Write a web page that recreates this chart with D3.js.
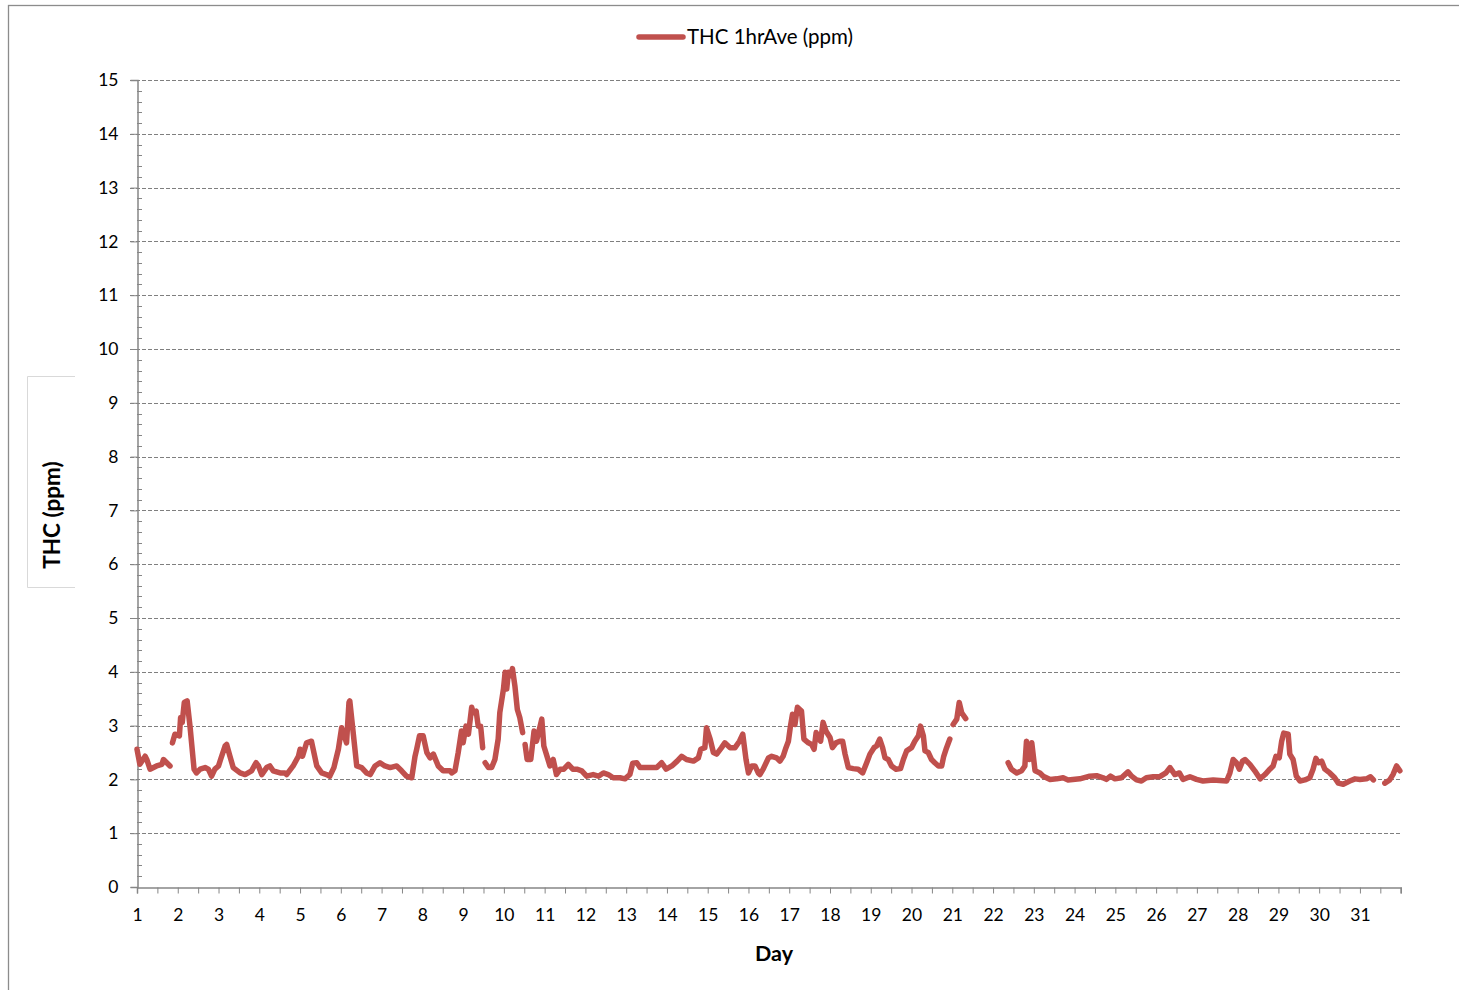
<!DOCTYPE html>
<meta charset="utf-8">
<title>THC 1hrAve</title>
<style>

body {
  margin: 0;
  background: #fff;
}

text {
  font-family: Lato, "Open Sans", sans-serif;
  fill: #000;
}

</style>
<body>
  <script src="https://d3js.org/d3.v7.min.js"></script>
  <script>

  // series: day position (decimal) and THC value, null marks a gap in the record
  const days = [
    1.00, 1.07, 1.20, 1.24, 1.32, 1.48, 1.61, 1.65, 1.73, 1.81, 1.84,
    1.87, 1.93, 2.04, 2.07, 2.11, 2.16, 2.23, 2.30, 2.40, 2.46, 2.55, 2.67, 2.75, 2.83, 2.91,
    3.00, 3.05, 3.16, 3.20, 3.28, 3.36, 3.53, 3.65, 3.81, 3.92, 3.98, 4.06, 4.18, 4.26, 4.34,
    4.51, 4.63, 4.67, 4.83, 4.96, 5.00, 5.06, 5.16, 5.28, 5.41, 5.53, 5.65, 5.73, 5.83, 5.94,
    6.02, 6.14, 6.20, 6.22, 6.39, 6.51, 6.63, 6.72, 6.84, 6.96, 7.08, 7.21, 7.37, 7.49, 7.61,
    7.74, 7.82, 7.86, 7.93, 8.02, 8.11, 8.19, 8.27, 8.39, 8.51, 8.68, 8.72, 8.80, 8.88, 8.96,
    9.00, 9.07, 9.13, 9.21, 9.25, 9.32, 9.37, 9.43, 9.48, 9.51,
    9.54, 9.62, 9.70, 9.78, 9.86, 9.90, 9.99, 10.03, 10.07, 10.11, 10.17, 10.21, 10.27, 10.33,
    10.39, 10.46, 10.49,
    10.52, 10.57, 10.66, 10.74, 10.80, 10.87, 10.93, 10.98, 11.07, 11.13, 11.21, 11.29, 11.38,
    11.47, 11.58, 11.69, 11.79, 11.91, 12.03, 12.19, 12.32, 12.44, 12.56, 12.68, 12.85, 12.97,
    13.09, 13.16, 13.26, 13.34, 13.46, 13.58, 13.75, 13.87, 13.98, 14.12, 14.25, 14.36, 14.48,
    14.65, 14.77, 14.83, 14.93, 14.97, 15.06, 15.14, 15.22, 15.34, 15.42, 15.55, 15.67, 15.78,
    15.86, 15.94, 16.00, 16.08, 16.16, 16.24, 16.28, 16.36, 16.49, 16.57, 16.69, 16.77, 16.85,
    16.92, 16.98, 17.03, 17.08, 17.14, 17.20, 17.30, 17.36, 17.47, 17.55, 17.61, 17.66, 17.71,
    17.77, 17.83, 17.90, 18.00, 18.06, 18.15, 18.24, 18.31, 18.37, 18.45, 18.57, 18.69, 18.80,
    18.90, 18.98, 19.08, 19.14, 19.22, 19.29, 19.35, 19.43, 19.51, 19.62, 19.73, 19.80, 19.88,
    20.00, 20.08, 20.17, 20.22, 20.29, 20.33, 20.41, 20.49, 20.57, 20.66, 20.74, 20.79, 20.86,
    20.94, 20.98,
    21.02, 21.11, 21.17, 21.23, 21.33, 21.80,
    22.37, 22.45, 22.58, 22.70, 22.78, 22.82, 22.89, 22.95, 23.03, 23.15, 23.23, 23.40, 23.56,
    23.72, 23.84, 24.13, 24.37, 24.54, 24.70, 24.78, 24.88, 24.99, 25.15, 25.31, 25.40, 25.52,
    25.64, 25.76, 25.93, 26.09, 26.24, 26.34, 26.46, 26.57, 26.66, 26.83, 26.99, 27.15, 27.40,
    27.73, 27.81, 27.89, 27.97, 28.04, 28.12, 28.18, 28.30, 28.42, 28.55, 28.67, 28.79, 28.87,
    28.94, 29.02, 29.08, 29.13, 29.24, 29.28, 29.36, 29.44, 29.53, 29.65, 29.77, 29.85, 29.92,
    29.98, 30.06, 30.14, 30.26, 30.38, 30.47, 30.59, 30.75, 30.88, 31.00, 31.16, 31.26, 31.33,
    31.45,
    31.61, 31.73, 31.81, 31.90, 31.98
  ];

  const thc = [
    2.56, 2.28, 2.43, 2.37, 2.19, 2.25, 2.28, 2.37, 2.31, 2.25, null,
    2.68, 2.84, 2.81, 3.15, 3.06, 3.43, 3.46, 2.99, 2.19, 2.12, 2.19, 2.22, 2.19, 2.06, 2.19,
    2.25, 2.37, 2.62, 2.65, 2.43, 2.22, 2.12, 2.09, 2.16, 2.31, 2.25, 2.09, 2.22, 2.25, 2.16,
    2.12, 2.12, 2.09, 2.25, 2.43, 2.56, 2.43, 2.68, 2.71, 2.25, 2.12, 2.09, 2.06, 2.22, 2.56,
    2.96, 2.68, 3.43, 3.46, 2.25, 2.22, 2.12, 2.09, 2.25, 2.31, 2.25, 2.22, 2.25, 2.16, 2.06,
    2.03, 2.43, 2.56, 2.81, 2.81, 2.50, 2.40, 2.47, 2.25, 2.16, 2.16, 2.12, 2.16, 2.50, 2.90,
    2.68, 2.99, 2.84, 3.34, 3.24, 3.27, 2.99, 2.99, 2.59, null,
    2.31, 2.22, 2.22, 2.37, 2.75, 3.24, 3.68, 3.99, 3.68, 3.99, 3.93, 4.06, 3.74, 3.30,
    3.15, 2.87, null,
    2.65, 2.37, 2.37, 2.90, 2.71, 2.93, 3.12, 2.62, 2.40, 2.25, 2.37, 2.09, 2.19,
    2.19, 2.28, 2.19, 2.19, 2.16, 2.06, 2.09, 2.06, 2.12, 2.09, 2.03, 2.03, 2.01,
    2.09, 2.30, 2.31, 2.22, 2.22, 2.22, 2.22, 2.31, 2.19, 2.25, 2.34, 2.43, 2.37,
    2.34, 2.40, 2.56, 2.59, 2.96, 2.75, 2.50, 2.47, 2.59, 2.68, 2.59, 2.59, 2.71,
    2.84, 2.37, 2.12, 2.25, 2.25, 2.12, 2.09, 2.19, 2.40, 2.43, 2.40, 2.34, 2.43,
    2.59, 2.71, 2.99, 3.21, 3.02, 3.34, 3.27, 2.75, 2.68, 2.65, 2.56, 2.87, 2.78,
    2.71, 3.06, 2.90, 2.78, 2.59, 2.68, 2.71, 2.71, 2.47, 2.22, 2.20, 2.19, 2.12,
    2.31, 2.47, 2.59, 2.62, 2.75, 2.59, 2.40, 2.37, 2.25, 2.19, 2.20, 2.37, 2.53,
    2.59, 2.71, 2.81, 2.99, 2.81, 2.53, 2.50, 2.37, 2.31, 2.25, 2.25, 2.43, 2.59,
    2.75, null,
    3.02, 3.12, 3.43, 3.24, 3.13, null,
    2.31, 2.19, 2.12, 2.16, 2.25, 2.71, 2.37, 2.68, 2.16, 2.12, 2.06, 2.00, 2.01,
    2.03, 1.99, 2.01, 2.06, 2.07, 2.03, 2.00, 2.06, 2.01, 2.03, 2.14, 2.06, 1.99,
    1.97, 2.03, 2.05, 2.05, 2.12, 2.22, 2.09, 2.12, 2.00, 2.05, 2.00, 1.97, 1.99,
    1.97, 2.12, 2.37, 2.31, 2.19, 2.34, 2.37, 2.28, 2.16, 2.01, 2.09, 2.19, 2.25,
    2.43, 2.40, 2.71, 2.86, 2.84, 2.47, 2.37, 2.06, 1.97, 1.99, 2.03, 2.19, 2.39,
    2.31, 2.34, 2.19, 2.12, 2.03, 1.93, 1.91, 1.97, 2.01, 2.00, 2.01, 2.05, 1.99,
    null,
    1.93, 1.99, 2.09, 2.25, 2.16
  ];

  const dayLabels = d3.range(1, 32);   // 1 .. 31
  const yTicks = d3.range(0, 16);      // 0 .. 15
  const seriesName = "THC 1hrAve (ppm)";

  const width = 1459;
  const height = 990;
  const plotLeft = 137, plotRight = 1400.7, plotTop = 80, plotBottom = 887;
  const lineColor = "#c0504d";
  const axisColor = "#868686";

  const svg = d3.select("body").append("svg")
      .attr("width", width)
      .attr("height", height);

  // outer chart frame
  svg.append("rect")
      .attr("x", 8.5).attr("y", 5.5)
      .attr("width", width).attr("height", height)
      .attr("fill", "none")
      .attr("stroke", "#8c8c8c")
      .attr("stroke-width", 1.3);

  const x = d3.scaleLinear().domain([1, 32]).range([plotLeft, plotRight]);
  const y = d3.scaleLinear().domain([0, 15]).range([plotBottom, plotTop]);

  // dashed gridlines
  svg.append("g").selectAll("line")
      .data(yTicks.filter(d => d > 0))
    .enter().append("line")
      .attr("x1", plotLeft - 7).attr("x2", plotRight)
      .attr("y1", d => Math.round(y(d)) + 0.5)
      .attr("y2", d => Math.round(y(d)) + 0.5)
      .attr("stroke", "#7f7f7f")
      .attr("stroke-width", 1.2)
      .attr("stroke-dasharray", "4,2");

  // y axis: major ticks out, minor ticks in
  const yAxis = svg.append("g")
      .attr("transform", "translate(" + (plotLeft + 0.5) + ",0)")
      .call(d3.axisLeft(y).tickValues(yTicks).tickSize(7).tickPadding(12).tickFormat(d3.format("d")));
  yAxis.select(".domain").attr("stroke", axisColor).attr("stroke-width", 1.5);
  yAxis.selectAll(".tick line").attr("stroke", axisColor);
  yAxis.selectAll(".tick text").attr("font-size", 17.5).attr("font-family", "Lato, sans-serif");

  svg.append("g").selectAll("line")
      .data(d3.range(0, 75).map(i => i * 0.2).filter(d => Math.abs(d - Math.round(d)) > 0.01))
    .enter().append("line")
      .attr("x1", plotLeft).attr("x2", plotLeft + 5)
      .attr("y1", d => Math.round(y(d)) + 0.5)
      .attr("y2", d => Math.round(y(d)) + 0.5)
      .attr("stroke", axisColor);

  // x axis: ticks every half day
  const xAxis = svg.append("g")
      .attr("transform", "translate(0," + (plotBottom + 0.5) + ")")
      .call(d3.axisBottom(x).tickValues(d3.range(1, 32.01, 0.5)).tickSize(6).tickPadding(15)
        .tickFormat(d => dayLabels.includes(d) ? d : ""));
  xAxis.select(".domain").attr("stroke", axisColor).attr("stroke-width", 1.5);
  xAxis.selectAll(".tick line").attr("stroke", axisColor);
  xAxis.selectAll(".tick text").attr("font-size", 17.5).attr("font-family", "Lato, sans-serif");

  // the series
  const points = days.map((d, i) => ({day: d, v: thc[i]}));
  const line = d3.line()
      .defined(d => d.v !== null)
      .x(d => x(d.day))
      .y(d => y(d.v));

  svg.append("path")
      .datum(points)
      .attr("d", line)
      .attr("fill", "none")
      .attr("stroke", lineColor)
      .attr("stroke-width", 5.5)
      .attr("stroke-linejoin", "round")
      .attr("stroke-linecap", "round");

  // axis titles
  svg.append("text")
      .attr("x", 774).attr("y", 961)
      .attr("text-anchor", "middle")
      .attr("font-size", 21.5).attr("font-weight", "bold")
      .text("Day");

  const yTitle = svg.append("g");
  yTitle.append("path")
      .attr("d", "M75,376.5H27.5V587.5H75")
      .attr("fill", "none")
      .attr("stroke", "#d9d9d9");
  yTitle.append("text")
      .attr("transform", "translate(60,515)rotate(-90)")
      .attr("text-anchor", "middle")
      .attr("font-size", 22.5).attr("font-weight", "bold")
      .text("THC (ppm)");

  // legend
  const legend = svg.append("g");
  legend.append("line")
      .attr("x1", 639).attr("x2", 683)
      .attr("y1", 37).attr("y2", 37)
      .attr("stroke", lineColor)
      .attr("stroke-width", 5.5)
      .attr("stroke-linecap", "round");
  legend.append("text")
      .attr("x", 687).attr("y", 44)
      .attr("font-size", 20.5)
      .text(seriesName);

  </script>
</body>
